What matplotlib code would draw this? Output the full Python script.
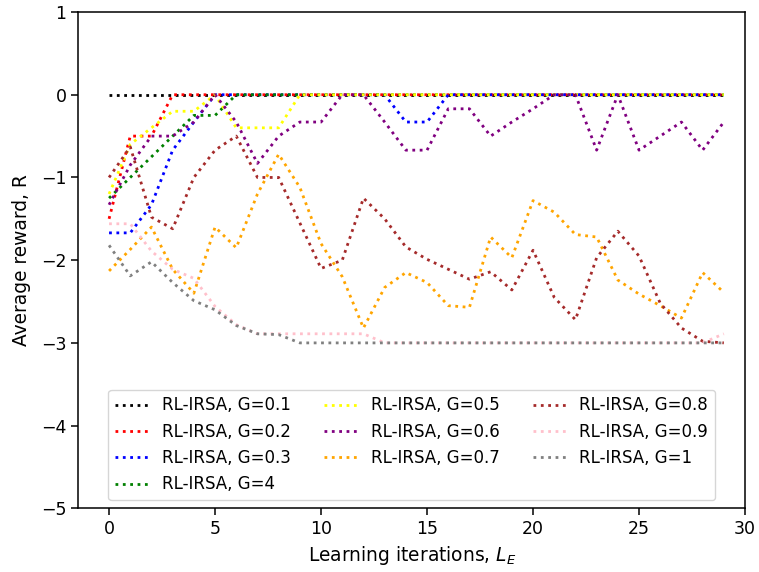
import matplotlib
matplotlib.use("Agg")
import matplotlib.pyplot as plt

# learning iterations
iters = list(range(30))

# average reward per G value
r_01 = [0.0] * 30
r_02 = [-1.5, -0.5, -0.5] + [0.0] * 27
r_03 = [-1.67, -1.67, -1.33, -0.67, -0.33, 0, 0, 0, 0, 0, 0, 0, 0, 0, -0.33, -0.33,
        0, 0, 0, 0, 0, 0, 0, 0, 0, 0, 0, 0, 0, 0]
r_4 = [-1.25, -1.0, -0.75, -0.5, -0.25, -0.25] + [0.0] * 24
r_05 = [-1.2, -0.6, -0.4, -0.2, -0.2, 0, -0.4, -0.4, -0.4] + [0.0] * 21
r_06 = [-1.33, -0.85, -0.5, -0.5, -0.33, 0, -0.33, -0.83, -0.5, -0.33,
        -0.33, 0, 0, -0.33, -0.67, -0.67, -0.17, -0.17, -0.5, -0.33,
        -0.17, 0, 0, -0.67, 0, -0.67, -0.5, -0.33, -0.67, -0.33]
r_07 = [-2.13, -1.87, -1.6, -2.11, -2.4, -1.6, -1.85, -1.2, -0.72, -1.12,
        -1.8, -2.2, -2.82, -2.33, -2.15, -2.27, -2.55, -2.57, -1.72, -1.97,
        -1.28, -1.42, -1.69, -1.72, -2.24, -2.41, -2.55, -2.7, -2.15, -2.39]
r_08 = [-1.0, -0.63, -1.48, -1.62, -1.0, -0.67, -0.5, -1.0, -1.0, -1.55,
        -2.1, -2.0, -1.25, -1.5, -1.84, -1.99, -2.11, -2.23, -2.14, -2.36,
        -1.88, -2.45, -2.72, -1.97, -1.65, -1.95, -2.52, -2.82, -2.98, -3.0]
r_09 = [-1.56, -1.56, -1.89, -2.11, -2.22, -2.56, -2.78, -2.89, -2.89, -2.89,
        -2.89, -2.89, -2.89] + [-3.0] * 16 + [-2.89]
r_1 = [-1.82, -2.19, -2.02, -2.27, -2.49, -2.6, -2.79, -2.89, -2.9] + [-3.0] * 21

series = [r_01, r_02, r_03, r_4, r_05, r_06, r_07, r_08, r_09, r_1]
labels = ["RL-IRSA, G=0.1", "RL-IRSA, G=0.2", "RL-IRSA, G=0.3", "RL-IRSA, G=4",
          "RL-IRSA, G=0.5", "RL-IRSA, G=0.6", "RL-IRSA, G=0.7", "RL-IRSA, G=0.8",
          "RL-IRSA, G=0.9", "RL-IRSA, G=1"]
colors = ["black", "red", "blue", "green", "yellow", "purple", "orange", "brown",
          "pink", "gray"]

fig = plt.figure(figsize=(7.59, 5.72), dpi=100)
ax = fig.add_axes([0.1032, 0.1113, 0.8784, 0.8677])

for ys, lab, col in zip(series, labels, colors):
    ax.plot(iters, ys, linestyle=":", linewidth=2, color=col, label=lab)

ax.set_xlim(-1.45, 30)
ax.set_ylim(-5, 1)
ax.set_xticks(range(0, 31, 5))
ax.set_yticks(range(-5, 2))
ax.tick_params(labelsize=12.5, length=5, width=1.1)
for s in ax.spines.values():
    s.set_linewidth(1.1)

ax.set_xlabel("Learning iterations, $L_E$", fontsize=13.4)
ax.set_ylabel("Average reward, R", fontsize=13.4, labelpad=7)
ax.legend(loc="lower center", ncol=3, fontsize=12)

fig.savefig("out.png", dpi=100)
